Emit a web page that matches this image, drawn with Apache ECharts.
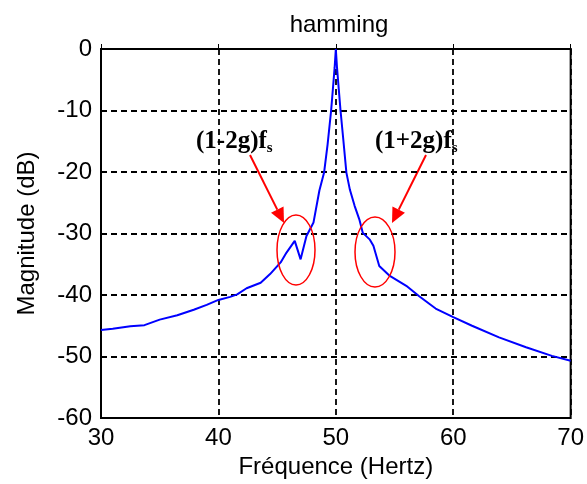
<!DOCTYPE html>
<html>
<head>
<meta charset="utf-8">
<script src="https://cdn.jsdelivr.net/npm/echarts@6/dist/echarts.min.js"></script>
<style>
  html, body { margin: 0; padding: 0; background: #fff; }
  #chart { width: 587px; height: 484px; }
</style>
</head>
<body>
<div id="chart"></div>
<script>
// spectrum (Hz, dB)
const freqs = [30, 31, 32.5, 33.7, 35, 36.5, 37.9, 39, 40, 41, 41.6, 42.4, 43.6, 44.4, 45.3, 45.8,
    46.5, 47.0, 47.5, 48.1, 48.6, 49.0, 49.3, 49.6, 49.75, 49.9, 50,
    50.1, 50.25, 50.4, 50.65, 50.9, 51.2, 51.6, 52.0, 52.3, 52.9, 53.2, 53.7, 54.6,
    56.0, 57.1, 58.5, 60.0, 61.6, 63.9, 66.2, 68.4, 70];
const magnitude = [-45.7, -45.5, -45.1, -44.9, -44.0, -43.3, -42.4, -41.6, -40.8, -40.3, -39.9, -38.9, -38.0, -36.6, -34.7, -33.1,
    -31.2, -34.2, -30.4, -28.2, -23.0, -20.1, -15.5, -10.0, -6.5, -3.0, 0,
    -3.0, -6.5, -10.0, -15.0, -20.1, -22.9, -25.5, -27.7, -29.9, -31.0, -32.0, -35.3, -36.9,
    -38.5, -40.2, -42.2, -43.6, -45.0, -46.9, -48.5, -49.9, -50.7];
const xTicks = [30, 40, 50, 60, 70];
const yTicks = [-60, -50, -40, -30, -20, -10, 0];

const labelFont = 'Liberation Sans, Arial, sans-serif';
const serifFont = 'Liberation Serif, Times New Roman, serif';

const chart = echarts.init(document.getElementById('chart'));

function arrow(x1, y1, x2, y2) {
    const dx = x2 - x1, dy = y2 - y1;
    const len = Math.sqrt(dx * dx + dy * dy);
    const ux = dx / len, uy = dy / len;
    const headLen = 15, headW = 7;
    const bx = x2 - ux * headLen, by = y2 - uy * headLen;
    return [
        {
            type: 'line',
            shape: { x1: x1, y1: y1, x2: bx, y2: by },
            style: { stroke: '#ff0000', lineWidth: 2 }
        },
        {
            type: 'polygon',
            shape: { points: [[x2, y2], [bx - uy * headW, by + ux * headW], [bx + uy * headW, by - ux * headW]] },
            style: { fill: '#ff0000' }
        }
    ];
}

function label(x, y, main) {
    return {
        type: 'text',
        x: x,
        y: y,
        style: {
            text: '{a|' + main + '}{s|s}',
            verticalAlign: 'middle',
            rich: {
                a: { fontFamily: serifFont, fontWeight: 'bold', fontSize: 25, lineHeight: 28, fill: '#000' },
                s: { fontFamily: serifFont, fontWeight: 'bold', fontSize: 15, lineHeight: 28, verticalAlign: 'bottom', fill: '#000' }
            }
        }
    };
}

const option = {
    animation: false,
    backgroundColor: '#fff',
    title: {
        text: 'hamming',
        left: 334,
        top: 8,
        textAlign: 'center',
        textStyle: { fontFamily: labelFont, fontWeight: 'normal', fontSize: 24, color: '#000' }
    },
    grid: {
        left: 101, right: 14, top: 49, bottom: 66,
        show: true, borderColor: '#000', borderWidth: 2
    },
    xAxis: {
        type: 'value',
        min: xTicks[0],
        max: xTicks[xTicks.length - 1],
        interval: 10,
        name: 'Fréquence (Hertz)',
        nameLocation: 'middle',
        nameGap: 33,
        nameTextStyle: { fontFamily: labelFont, fontSize: 24, color: '#000' },
        axisLine: { show: true, lineStyle: { color: '#000', width: 2 } },
        axisTick: { show: true, inside: true, length: 5, lineStyle: { color: '#000' } },
        axisLabel: { fontFamily: labelFont, fontSize: 24, color: '#000', margin: 8 },
        splitLine: { show: true, lineStyle: { color: '#000', width: 1.8, type: [6, 4] } }
    },
    yAxis: {
        type: 'value',
        min: yTicks[0],
        max: yTicks[yTicks.length - 1],
        interval: 10,
        name: 'Magnitude (dB)',
        nameLocation: 'middle',
        nameGap: 62,
        nameTextStyle: { fontFamily: labelFont, fontSize: 24, color: '#000' },
        axisLine: { show: true, lineStyle: { color: '#000', width: 2 } },
        axisTick: { show: true, inside: true, length: 5, lineStyle: { color: '#000' } },
        axisLabel: { fontFamily: labelFont, fontSize: 24, color: '#000', margin: 9 },
        splitLine: { show: true, lineStyle: { color: '#000', width: 1.8, type: [6, 4] } }
    },
    series: [{
        type: 'line',
        data: freqs.map((f, i) => [f, magnitude[i]]),
        showSymbol: false,
        lineStyle: { color: '#0000ff', width: 2 },
        z: 3
    }],
    graphic: [
        { type: 'ellipse', shape: { cx: 296, cy: 250, rx: 19, ry: 35 }, style: { fill: 'none', stroke: '#ff0000', lineWidth: 1.5 }, z: 10 },
        { type: 'ellipse', shape: { cx: 375, cy: 252, rx: 20, ry: 35 }, style: { fill: 'none', stroke: '#ff0000', lineWidth: 1.5 }, z: 10 },
        ...arrow(250, 155, 284, 223),
        ...arrow(426, 155, 392, 223),
        label(196, 142, '(1-2g)f'),
        label(375, 142, '(1+2g)f')
    ]
};
chart.setOption(option);
</script>
</body>
</html>
